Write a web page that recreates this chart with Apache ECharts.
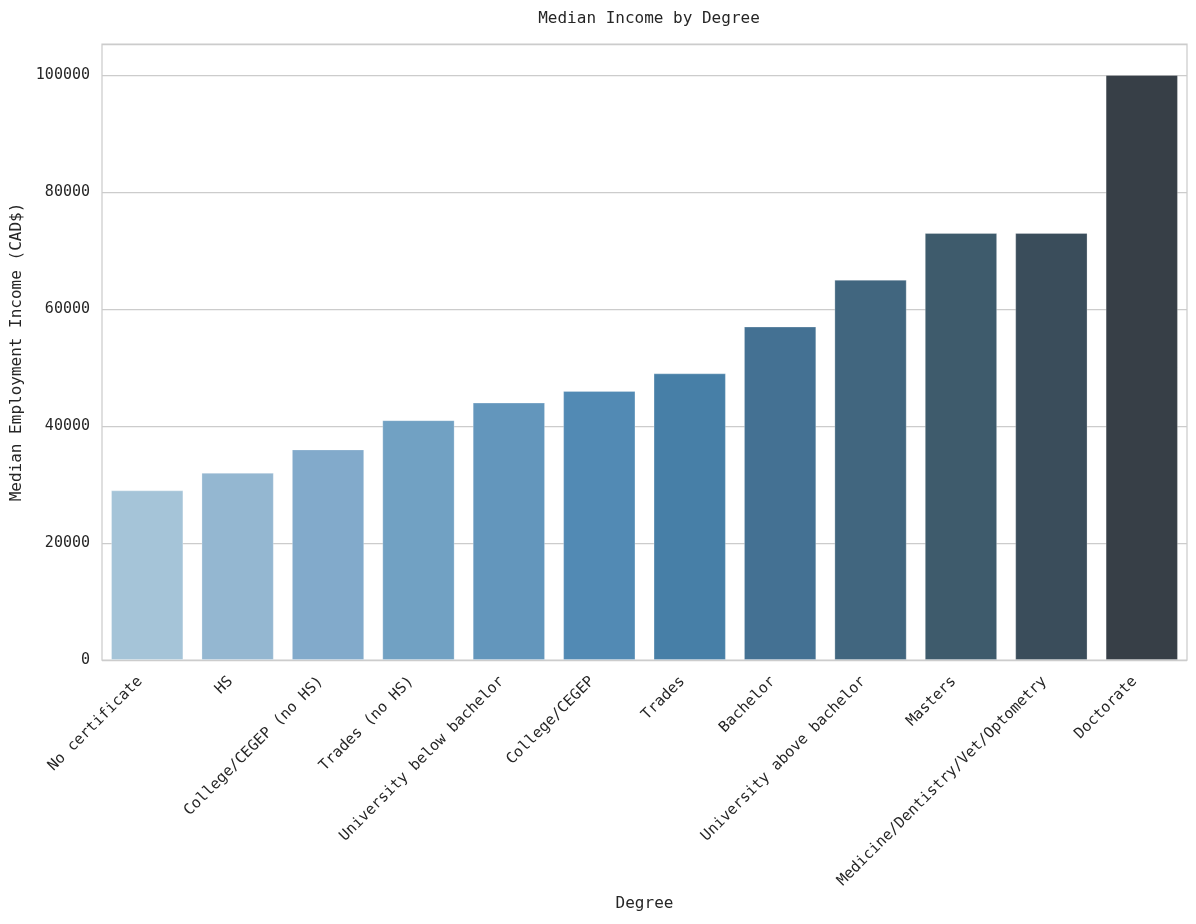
<!DOCTYPE html>
<html>
<head>
<meta charset="utf-8">
<script src="https://cdn.jsdelivr.net/npm/echarts@6/dist/echarts.min.js"></script>
<style>html,body{margin:0;padding:0;background:#fff;}#c{width:1196px;height:924px;}</style>
</head>
<body>
<div id="c"></div>
<script>
const categories = ["No certificate","HS","College/CEGEP (no HS)","Trades (no HS)","University below bachelor","College/CEGEP","Trades","Bachelor","University above bachelor","Masters","Medicine/Dentistry/Vet/Optometry","Doctorate"];
const incomes = [29000,32000,36000,41000,44000,46000,49000,57000,65000,73000,73000,100000];
const barColors = ["#a5c4d8","#94b7d1","#82aacb","#71a1c3","#6396bc","#528ab4","#477fa7","#447193","#41667f","#3e5b6c","#3a4d5b","#373f47"];

const font = "'DejaVu Sans Mono', monospace";
const chart = echarts.init(document.getElementById('c'), null, {renderer:'canvas'});
chart.setOption({
  animation:false,
  backgroundColor:'#ffffff',
  title:{text:'Median Income by Degree', left:644, top:6, textAlign:'center',
    textStyle:{fontFamily:font, fontSize:16, fontWeight:'normal', color:'#262626'}},
  grid:{left:102, right:9, top:44, bottom:264, show:true, borderColor:'#cccccc', borderWidth:1.25, containLabel:false},
  xAxis:{type:'category', data:categories, name:'Degree', nameLocation:'middle', nameGap:236,
    nameTextStyle:{fontFamily:font, fontSize:16, color:'#262626'},
    axisLine:{show:false}, axisTick:{show:false}, splitLine:{show:false},
    axisLabel:{rotate:45, interval:0, margin:12, padding:[0,10,0,0], fontFamily:font, fontSize:15, color:'#262626'}},
  yAxis:{type:'value', min:0, max:105300, interval:20000, name:'Median Employment Income (CAD$)',
    nameLocation:'middle', nameGap:76, nameRotate:90,
    nameTextStyle:{fontFamily:font, fontSize:16, color:'#262626'},
    axisLine:{show:false}, axisTick:{show:false},
    splitLine:{lineStyle:{color:'#cccccc', width:1.25}},
    axisLabel:{margin:12, fontFamily:font, fontSize:15, color:'#262626',
      formatter:function(v){ return (v % 20000 === 0) ? String(v) : ''; }}},
  series:[{type:'bar', barCategoryGap:'20%',
    data:incomes.map((v,i)=>({value:v, itemStyle:{color:barColors[i]}})),
    itemStyle:{borderColor:'rgba(255,255,255,0.25)', borderWidth:1}}]
});
</script>
</body>
</html>
